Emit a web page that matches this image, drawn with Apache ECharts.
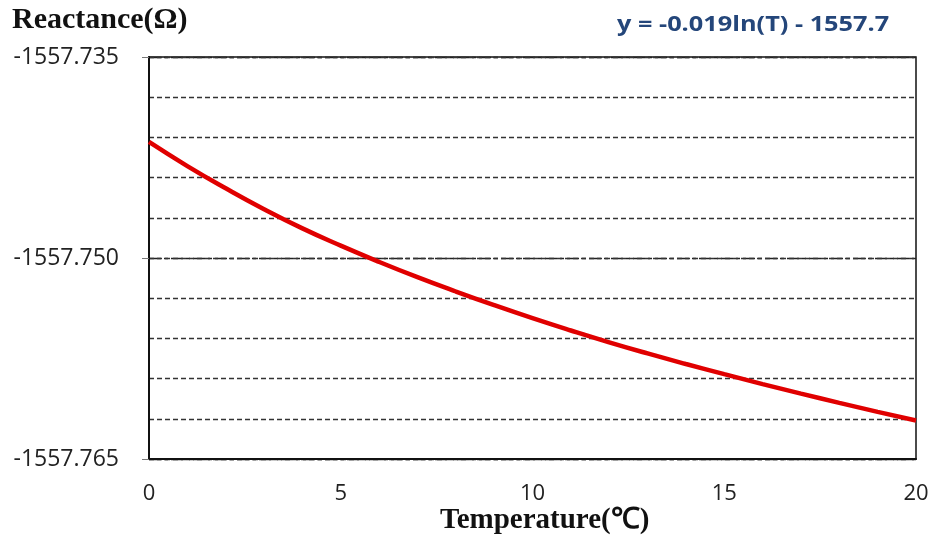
<!DOCTYPE html>
<html>
<head>
<meta charset="utf-8">
<script src="https://cdn.jsdelivr.net/npm/echarts@6/dist/echarts.min.js"></script>
<style>html,body{margin:0;padding:0;background:#fff;}#c{width:935px;height:544px;}</style>
</head>
<body>
<div id="c"></div>
<script>
var temperatures = [0,1,2,3,4,5,6,7,8,9,10,11,12,13,14,15,16,17,18,19,20];
var reactance = [-1557.74134,-1557.74314,-1557.74480,-1557.74636,-1557.74779,-1557.74908,-1557.75029,-1557.75143,-1557.75250,-1557.75352,-1557.75449,-1557.75541,-1557.75629,-1557.75712,-1557.75791,-1557.75867,-1557.75941,-1557.76012,-1557.76081,-1557.76148,-1557.76213];
var yMin = -1557.765, yMax = -1557.735;
var xTicks = [0,5,10,15,20];
var yTickLabels = ['-1557.765','-1557.750','-1557.735'];
var equationText = 'y = -0.019ln(T) - 1557.7';
var yTitle = 'Reactance(Ω)';
var xTitle = 'Temperature(℃)';

var chart = echarts.init(document.getElementById('c'), null, {renderer:'canvas'});
var pts = temperatures.map(function(t,i){return [t, reactance[i]];});
chart.setOption({
  backgroundColor:'#fff',
  animation:false,
  grid:{left:149,right:19,top:57,bottom:85,show:true,borderColor:'#111',borderWidth:1.5,backgroundColor:'transparent'},
  graphic:[
    {type:'text',left:12,top:5,style:{text:yTitle,font:'bold 30px "Liberation Serif"',fill:'#111'}},
    {type:'text',left:440,top:506,style:{text:xTitle,font:'bold 29px "Liberation Serif"',fill:'#111'}},
    {type:'text',x:617,y:14,scaleX:1.15,style:{text:equationText,font:'bold 22px "Open Sans"',fill:'#24467A'}}
  ],
  xAxis:{type:'value',min:xTicks[0],max:xTicks[xTicks.length-1],interval:5,
    axisLine:{show:true,lineStyle:{color:'#111',width:2}},
    axisTick:{show:false},
    splitLine:{show:false},
    axisLabel:{margin:24,fontFamily:'Open Sans',fontSize:22,color:'#222'}},
  yAxis:[
    {type:'value',min:yMin,max:yMax,interval:0.015,position:'left',
      axisLine:{show:true,lineStyle:{color:'#111',width:2}},
      axisTick:{show:true,length:7,lineStyle:{color:'#777',width:1}},
      splitLine:{show:true,lineStyle:{color:'#222',width:1.3,type:[12,3,4,3]}},
      axisLabel:{margin:30,fontFamily:'Open Sans',fontSize:23,color:'#222',
        formatter:function(v,i){return yTickLabels[i]!==undefined?yTickLabels[i]:v.toFixed(3);}}},
    {type:'value',min:yMin,max:yMax,interval:0.003,position:'left',
      axisLine:{show:false},axisTick:{show:false},axisLabel:{show:false},
      splitLine:{show:true,lineStyle:{color:'#333',width:1.3,type:[5,3]}}}
  ],
  series:[{type:'line',yAxisIndex:0,data:pts,smooth:true,showSymbol:false,
    lineStyle:{color:'#E00000',width:4.5},z:5}]
});
</script>
</body>
</html>
